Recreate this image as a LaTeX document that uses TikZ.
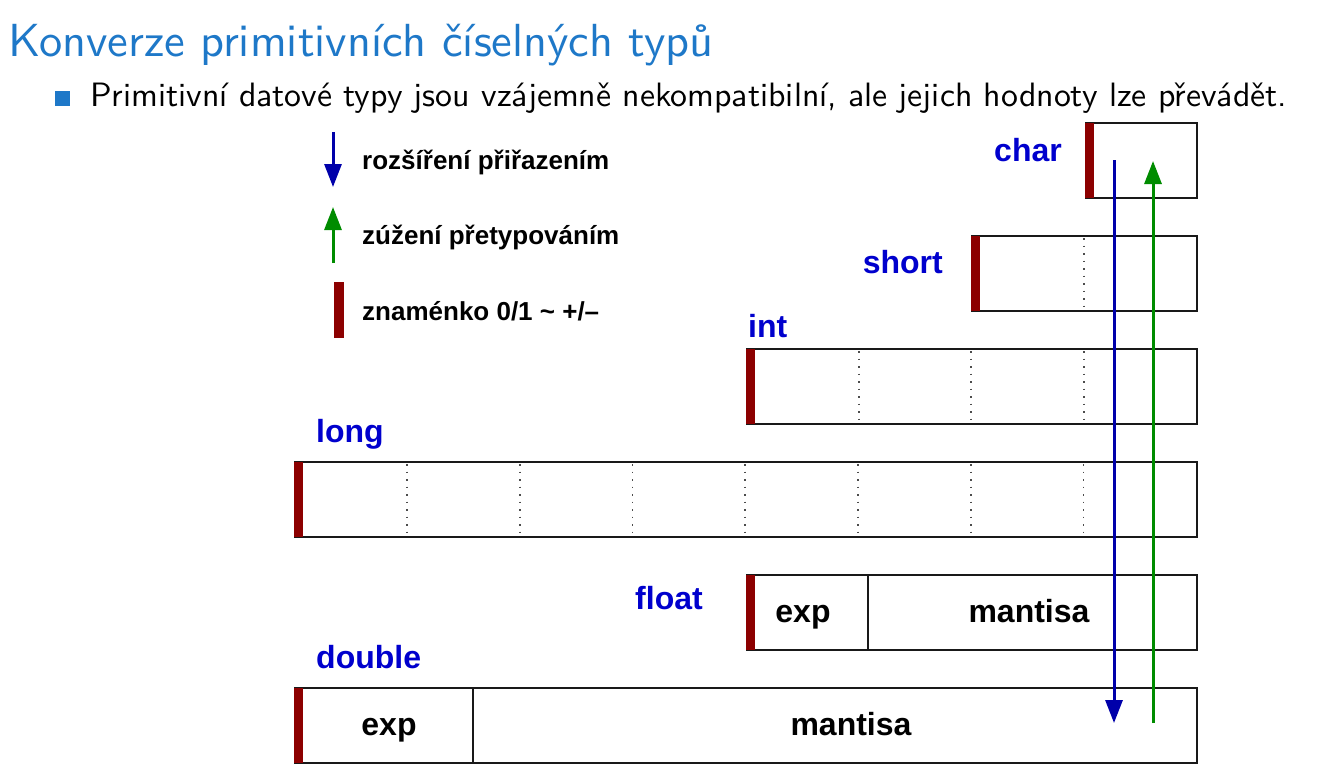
\documentclass[tikz,border=0pt]{standalone}
\usepackage{fontspec}
\newfontfamily\hv{Liberation Sans}
\newfontfamily\lmsansten[Extension=.otf]{lmsans10-regular}
\usetikzlibrary{arrows.meta}

\definecolor{titleblue}{RGB}{30,120,200}
\definecolor{labelblue}{RGB}{0,0,205}
\definecolor{widenblue}{RGB}{0,0,170}
\definecolor{narrowgreen}{RGB}{0,140,0}
\definecolor{signred}{RGB}{140,0,0}
\definecolor{framegray}{RGB}{25,25,25}

\tikzset{
  regbox/.style={draw=framegray, line width=1.8pt, fill=white, inner sep=0pt,
                 minimum height=75pt, anchor=north east},
  bytesep/.style={draw=black!70, line width=1.6pt, dash pattern=on 1.6pt off 5.9pt,
                  dash phase=-3pt},
  fieldsep/.style={draw=framegray, line width=1.5pt},
  typelabel/.style={text=labelblue, font=\hv\bfseries\fontsize{32}{36}\selectfont,
                    inner sep=0pt},
  fieldlabel/.style={text=black, font=\hv\bfseries\fontsize{32}{36}\selectfont,
                     inner sep=0pt, anchor=base},
  legendtext/.style={text=black, font=\hv\bfseries\fontsize{26}{30}\selectfont,
                     inner sep=0pt, anchor=base west},
  widen/.style={draw=widenblue, line width=3pt,
                -{Triangle[length=23pt,width=17pt]}},
  narrow/.style={draw=narrowgreen, line width=3pt,
                 -{Triangle[length=23pt,width=17pt]}},
}

\begin{document}
\begin{tikzpicture}[x=1pt, y=-1pt]
\useasboundingbox (0,0) rectangle (1340,780);

% heading and bullet line
\node[anchor=base west, inner sep=0pt, text=titleblue,
      font=\lmsansten\fontsize{46.4}{52}\selectfont] (title) at (8,56)
  {Konverze primitivních číselných typů};
\node[fill=titleblue, minimum size=15pt, inner sep=0pt] (bullet) at (62.5,98.5) {};
\node[anchor=base west, inner sep=0pt,
      font=\lmsansten\fontsize{33.8}{40}\selectfont] (intro) at (90,106)
  {Primitivní datové typy jsou vzájemně nekompatibilní, ale jejich hodnoty lze převádět.};

% legend
\coordinate (lwA) at (333,132);
\coordinate (lwB) at (333,187);
\draw[widen] (lwA) -- (lwB);
\node[legendtext] (lwT) at (362,169) {rozšíření přiřazením};

\coordinate (lnA) at (333,263);
\coordinate (lnB) at (333,207);
\draw[narrow] (lnA) -- (lnB);
\node[legendtext] (lnT) at (362,244) {zúžení přetypováním};

\node[fill=signred, inner sep=0pt, minimum width=9.5pt, minimum height=56pt,
      anchor=north west] (lsign) at (334,282) {};
\node[legendtext] (lsT) at (362,320) {znaménko 0/1 \textasciitilde{} +/–};

% registers, one byte = 112.75pt
\node[regbox, minimum width=111pt] (char)  at (1198,122) {};
\node[regbox, minimum width=225pt] (short) at (1198,235) {};
\node[regbox, minimum width=450pt] (int)   at (1198,348) {};
\node[regbox, minimum width=902pt] (long)  at (1198,461) {};
\node[regbox, minimum width=450pt] (float) at (1198,574) {};
\node[regbox, minimum width=902pt] (double) at (1198,687) {};

% byte boundaries
\foreach \k in {1} \draw[bytesep] ([xshift=\k*112.75pt]short.north west) -- ([xshift=\k*112.75pt]short.south west);
\foreach \k in {1,2,3} \draw[bytesep] ([xshift=\k*112.5pt]int.north west) -- ([xshift=\k*112.5pt]int.south west);
\foreach \k in {1,...,7} \draw[bytesep] ([xshift=\k*112.75pt]long.north west) -- ([xshift=\k*112.75pt]long.south west);

% exponent / mantissa split
\draw[fieldsep] ([xshift=122pt]float.north west) -- ([xshift=122pt]float.south west);
\draw[fieldsep] ([xshift=179pt]double.north west) -- ([xshift=179pt]double.south west);

% sign bits
\foreach \r in {char,short,int,long,float,double}
  \fill[signred] ([yshift=-0.9pt]\r.north west) rectangle ([xshift=9pt,yshift=0.9pt]\r.south west);

% type names
\node[typelabel, anchor=base east] (lchar)  at (1062,161) {char};
\node[typelabel, anchor=base east] (lshort) at (943,273)  {short};
\node[typelabel, anchor=base west] (lint)   at (748,337)  {int};
\node[typelabel, anchor=base west] (llong)  at (316,442)  {long};
\node[typelabel, anchor=base west] (lfloat) at (635,609)  {float};
\node[typelabel, anchor=base west] (ldouble) at (316,668) {double};

% fields
\node[fieldlabel] (fexp)  at (803,622)  {exp};
\node[fieldlabel] (fman)  at (1029,622) {mantisa};
\node[fieldlabel] (dexp)  at (389,735)  {exp};
\node[fieldlabel] (dman)  at (851,735)  {mantisa};

% conversion arrows
\coordinate (wTop) at (1114,160);
\coordinate (wBot) at (1114,723);
\draw[widen] (wTop) -- (wBot);
\coordinate (nBot) at (1153,723);
\coordinate (nTop) at (1153,161);
\draw[narrow] (nBot) -- (nTop);
\end{tikzpicture}
\end{document}
